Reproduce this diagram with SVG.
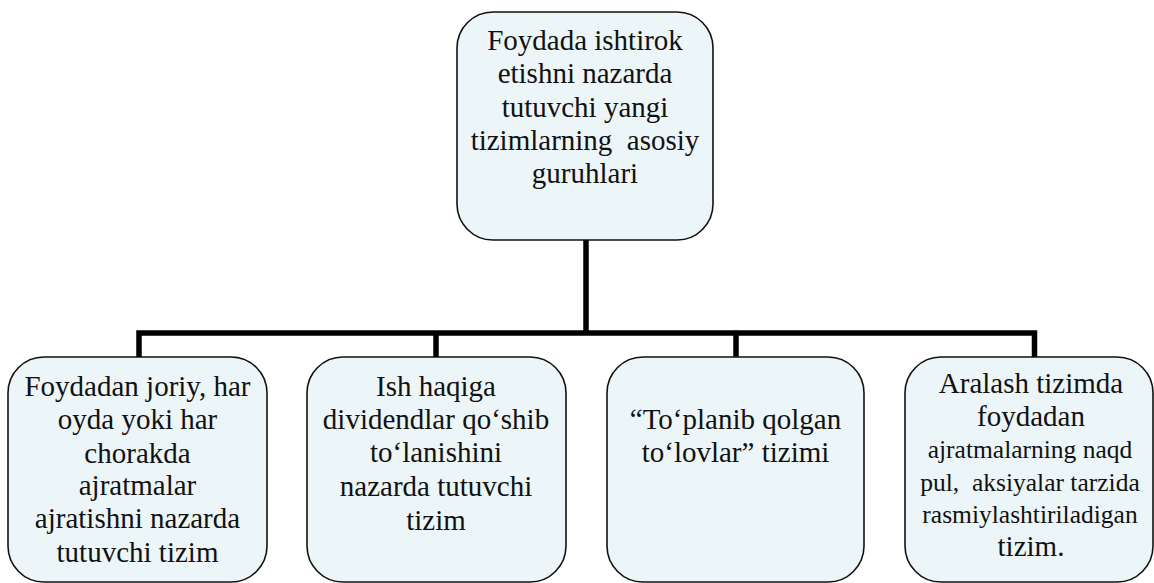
<svg xmlns="http://www.w3.org/2000/svg" width="1154" height="583" viewBox="0 0 1154 583">
<style>
.box{fill:#ECF5F7;stroke:#111;stroke-width:1.6}
.t{font-family:'Liberation Serif','Times New Roman',Tinos,'DejaVu Serif',serif;font-size:29px;fill:#111;text-anchor:middle;white-space:pre}
.s{font-size:25.5px}
.c{fill:none;stroke:#000;stroke-width:5.5;stroke-linecap:butt}
</style>
<rect width="1154" height="583" fill="#fff"/>
<g id="connectors">
<path class="c" d="M586 240 V333"/>
<path class="c" d="M139 357 V333 H1034.5 V357"/>
<path class="c" d="M436 333 V357"/>
<path class="c" d="M736 333 V357"/>
</g>
<g id="top">
<rect class="box" x="457" y="12" width="256" height="228" rx="36"/>
<text class="t" xml:space="preserve"><tspan x="585" y="50">Foydada ishtirok</tspan><tspan x="585" y="83">etishni nazarda</tspan><tspan x="585" y="117">tutuvchi yangi</tspan><tspan x="585" y="150">tizimlarning  asosiy</tspan><tspan x="585" y="183">guruhlari</tspan></text>
</g>
<g id="n1">
<rect class="box" x="8" y="357" width="259" height="225" rx="36"/>
<text class="t"><tspan x="137.5" y="396">Foydadan joriy, har</tspan><tspan x="137.5" y="429">oyda yoki har</tspan><tspan x="137.5" y="463">chorakda</tspan><tspan x="137.5" y="495">ajratmalar</tspan><tspan x="137.5" y="528">ajratishni nazarda</tspan><tspan x="137.5" y="562">tutuvchi tizim</tspan></text>
</g>
<g id="n2">
<rect class="box" x="307" y="357" width="259" height="225" rx="36"/>
<text class="t"><tspan x="436" y="396">Ish haqiga</tspan><tspan x="436" y="429">dividendlar qo‘shib</tspan><tspan x="436" y="462">to‘lanishini</tspan><tspan x="436" y="496">nazarda tutuvchi</tspan><tspan x="436" y="530">tizim</tspan></text>
</g>
<g id="n3">
<rect class="box" x="607" y="357" width="257" height="225" rx="36"/>
<text class="t"><tspan x="735.5" y="429">“To‘planib qolgan</tspan><tspan x="735.5" y="462">to‘lovlar” tizimi</tspan></text>
</g>
<g id="n4">
<rect class="box" x="905" y="357" width="248" height="225" rx="36"/>
<text class="t" x="1031" y="393">Aralash tizimda</text>
<text class="t" x="1031" y="425.5">foydadan</text>
<text class="t s" x="1030" y="458">ajratmalarning naqd</text>
<text class="t s" xml:space="preserve" x="1030" y="490.5">pul,  aksiyalar tarzida</text>
<text class="t s" x="1030" y="523">rasmiylashtiriladigan</text>
<text class="t" x="1031" y="555.5">tizim.</text>
</g>
</svg>
